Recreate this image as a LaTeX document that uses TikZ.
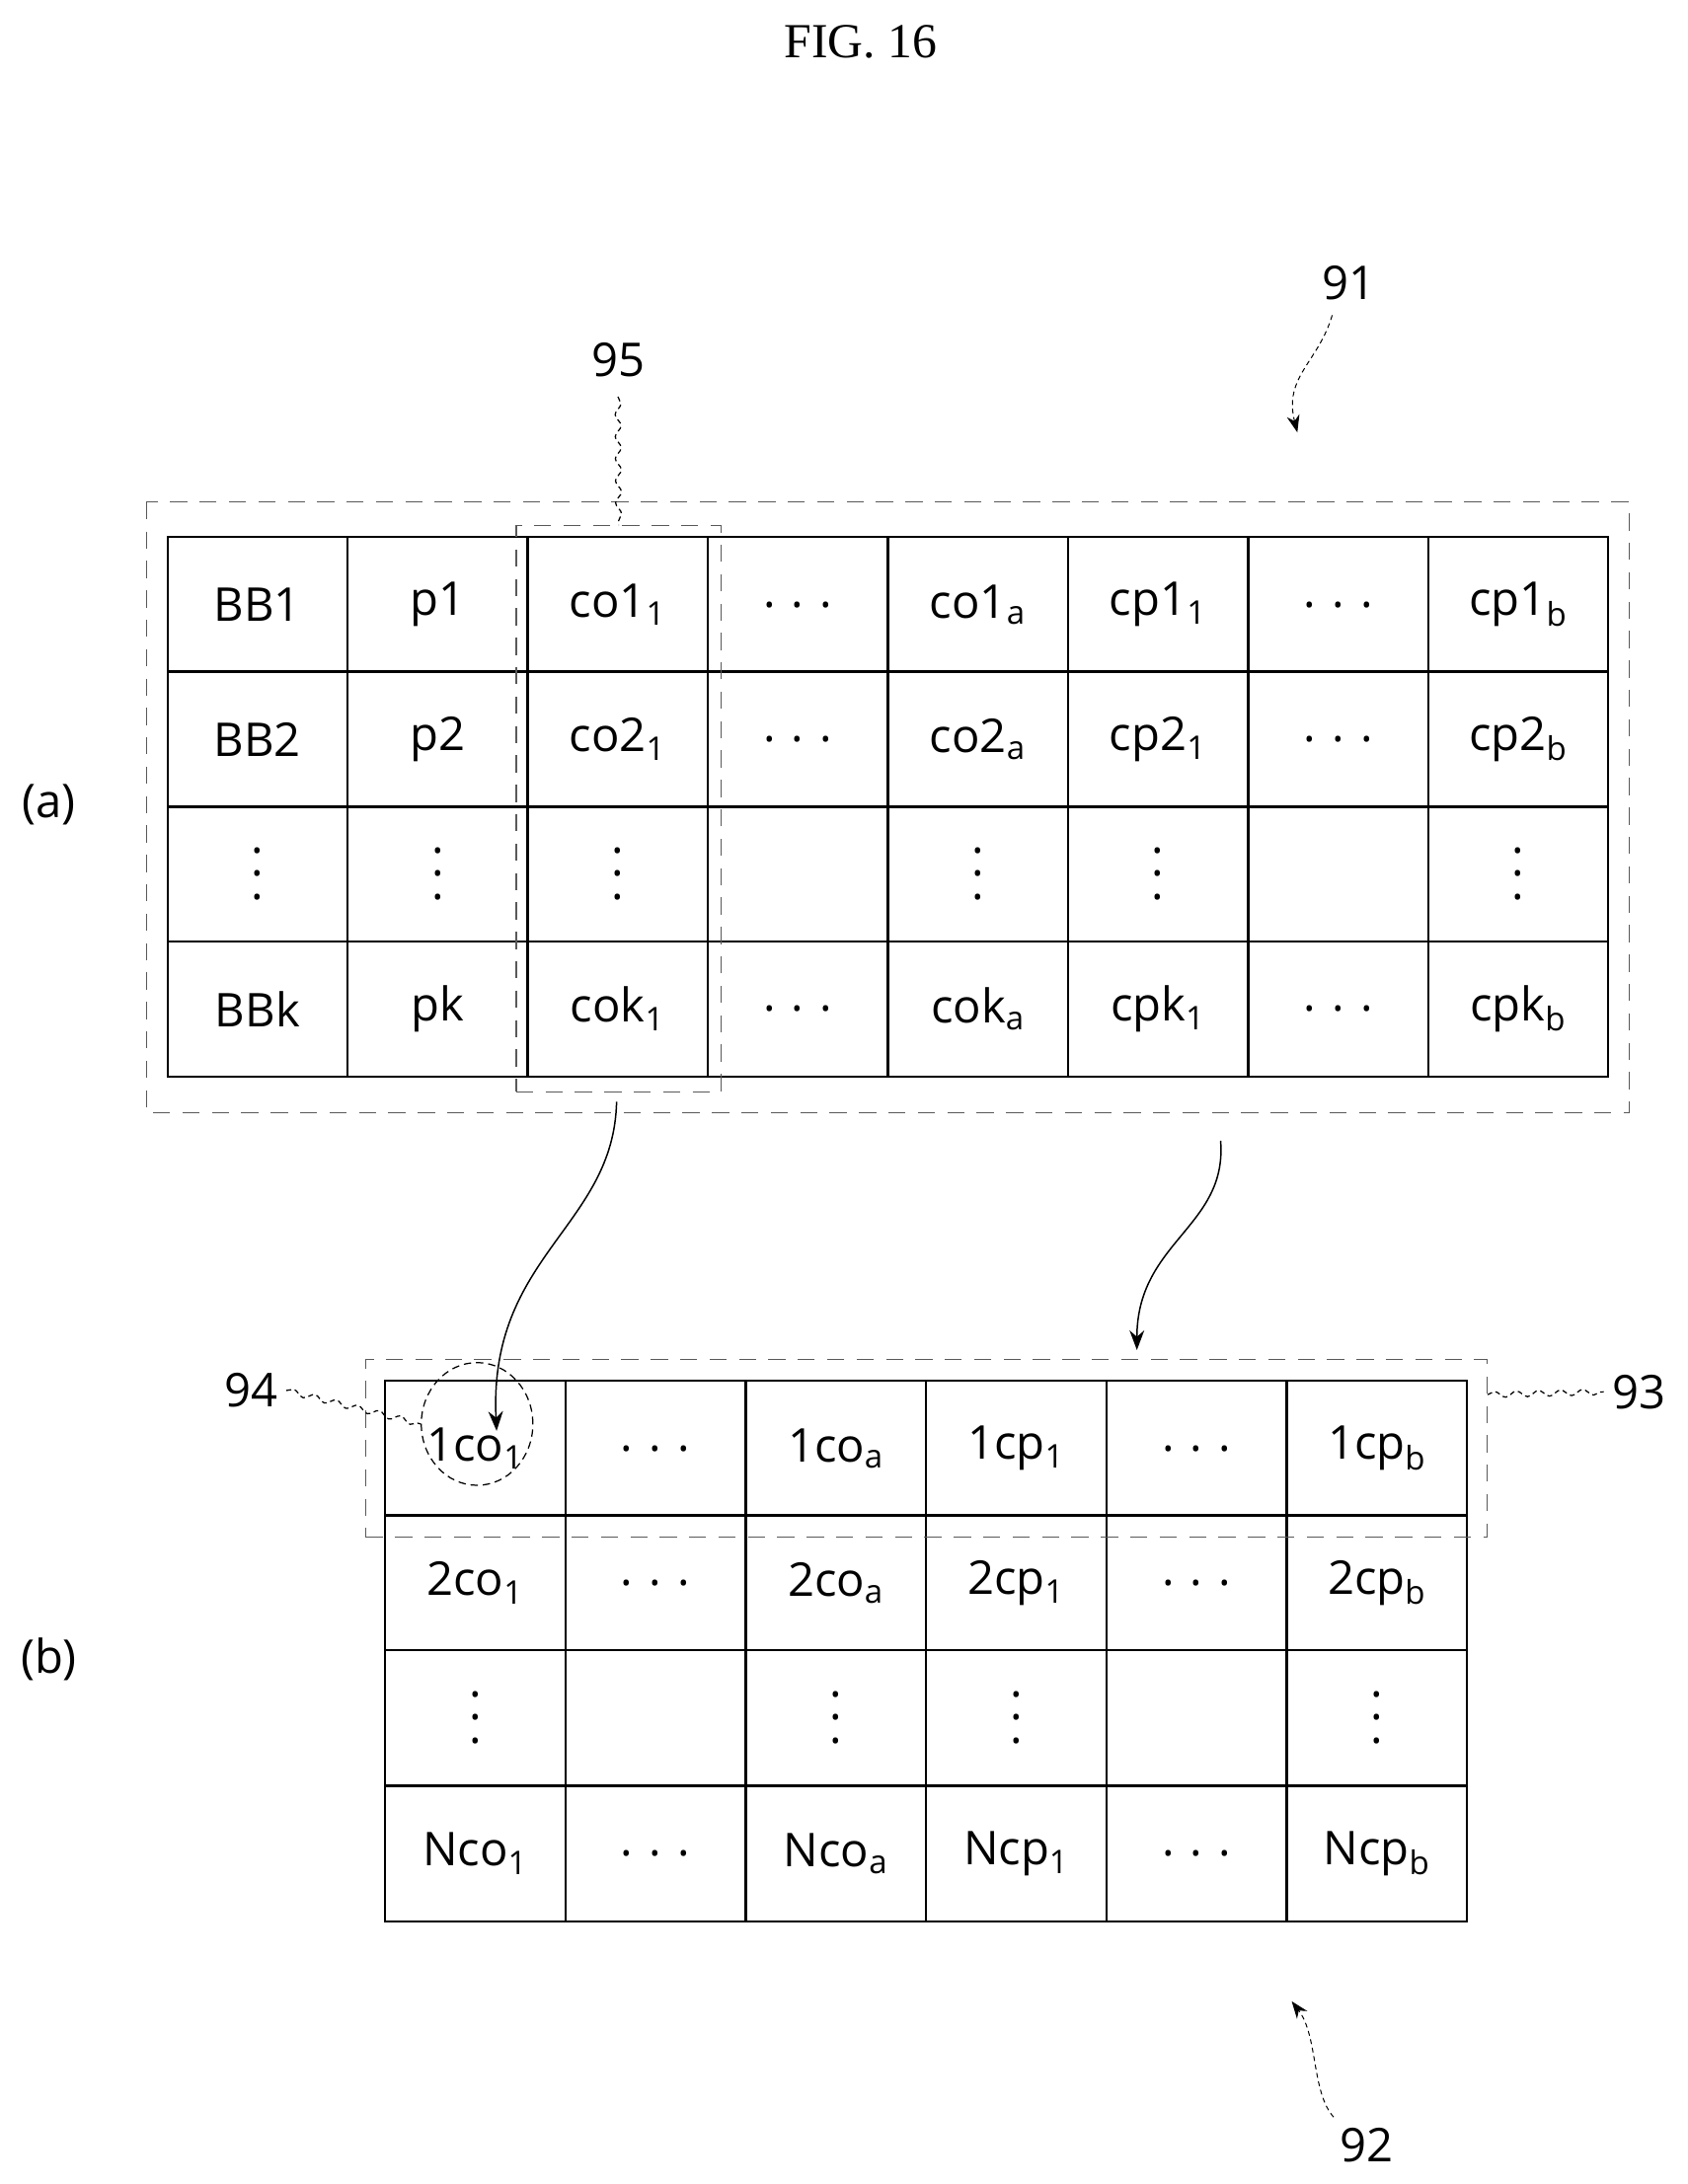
\documentclass[tikz,border=0pt]{standalone}
\usepackage{fontspec}
\setmainfont{Liberation Serif}
\newfontfamily\cellfont{Open Sans}
\usetikzlibrary{decorations.pathmorphing,arrows.meta,shapes.geometric}
\newcommand{\vd}{\shortstack{.\\[4pt].\\[4pt].}}
\newcommand{\sub}[1]{\textsubscript{#1}}
\begin{document}
\begin{tikzpicture}[x=0.02cm,y=-0.02cm,
  cell/.style={draw,line width=0.8pt,minimum width=2.58cm,minimum height=1.94cm,anchor=center,font=\cellfont\fontsize{19}{20}\selectfont,inner sep=0},
  dbox/.style={draw,dashed,dash pattern=on 7pt off 5pt,line width=0.5pt,gray!70!black},
  lab/.style={font=\cellfont\fontsize{19}{20}\selectfont},
  wav/.style={decorate,decoration={snake,amplitude=1.2pt,segment length=9pt},dashed,dash pattern=on 2pt off 1.5pt,line width=0.5pt}]
\useasboundingbox (0,0) rectangle (1210,1566);
\node[font=\fontsize{20}{22}\selectfont] (fig) at (617,30) {FIG. 16};
% table (a)
\foreach \r/\y/\list in {1/433.5/{BB1,p1,co1\sub{1},. . .,co1\sub{a},cp1\sub{1},. . .,cp1\sub{b}},
  2/530/{BB2,p2,co2\sub{1},. . .,co2\sub{a},cp2\sub{1},. . .,cp2\sub{b}},
  3/626.5/{\vd,\vd,\vd,,\vd,\vd,,\vd},
  4/723.5/{BBk,pk,cok\sub{1},. . .,cok\sub{a},cpk\sub{1},. . .,cpk\sub{b}}}{
  \foreach \t [count=\c] in \list {
    \node[cell] (a\r\c) at ({120+129.125*(\c-0.5)},\y) {\t};
  }}
\draw[dbox] (105,360) rectangle (1168,798);
\node (box95) [dbox,minimum width=2.94cm,minimum height=8.12cm] at (443.5,580) {};
\node[lab] (l95) at (443,258) {95};
\draw[wav] (l95.south) ++(0,8) -- (box95.north);
\node[lab] (l91) at (967,203) {91};
\coordinate (t91) at (930,310);
\draw[dashed,dash pattern=on 2pt off 1.5pt,-{Stealth[length=7pt]}] (955,226) .. controls (945,260) and (920,270) .. (t91);
\node[lab] (la) at (35,577) {(a)};
% table (b)
\foreach \r/\y/\list in {1/1038.5/{1co\sub{1},. . .,1co\sub{a},1cp\sub{1},. . .,1cp\sub{b}},
  2/1135/{2co\sub{1},. . .,2co\sub{a},2cp\sub{1},. . .,2cp\sub{b}},
  3/1231.5/{\vd,,\vd,\vd,,\vd},
  4/1329/{Nco\sub{1},. . .,Nco\sub{a},Ncp\sub{1},. . .,Ncp\sub{b}}}{
  \foreach \t [count=\c] in \list {
    \node[cell] (b\r\c) at ({276+129.3*(\c-0.5)},\y) {\t};
  }}
\node (box93) [dbox,minimum width=16.08cm,minimum height=2.54cm] at (664,1038.5) {};
\node (c94) [draw,dashed,dash pattern=on 3pt off 2pt,line width=0.5pt,ellipse,minimum width=1.6cm,minimum height=1.76cm] at (342,1021) {};
\node[lab] (l94) at (180,997) {94};
\draw[wav] (l94.east) -- (c94.west);
\node[lab] (l93) at (1175,998) {93};
\draw[wav] (box93.east |- 0,1000) -- (l93.west);
\node[lab] (lb) at (35,1190) {(b)};
\node[lab] (l92) at (980,1538) {92};
\coordinate (t92) at (926,1435);
\draw[dashed,dash pattern=on 2pt off 1.5pt,-{Stealth[length=7pt]}] (956,1518) .. controls (940,1500) and (945,1460) .. (t92);
% connectors
\coordinate (s1) at (442,790);
\coordinate (s2) at (875,818);
\draw[line width=0.6pt,-{Stealth[length=8pt]}] (s1) .. controls (440,880) and (350,900) .. (356,1026);
\draw[line width=0.6pt,-{Stealth[length=8pt]}] (s2) .. controls (880,880) and (815,890) .. (815,968);
\end{tikzpicture}
\end{document}
